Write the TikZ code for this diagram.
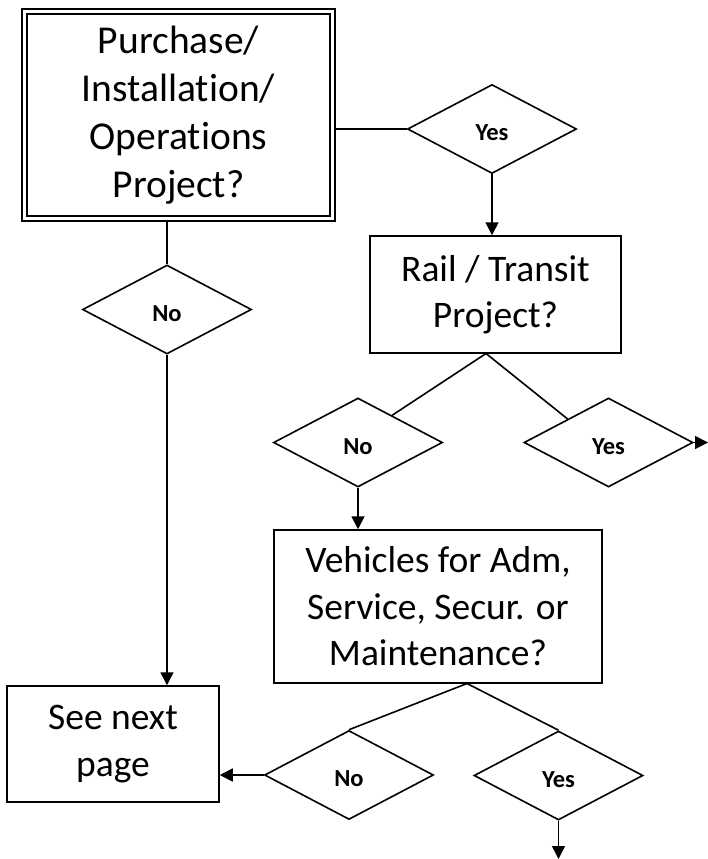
\documentclass[tikz,border=0pt]{standalone}
\usepackage{fontspec}
\setmainfont{Carlito}[Ligatures=NoCommon]
\usetikzlibrary{shapes.geometric, arrows.meta, calc}

\begin{document}
\begin{tikzpicture}[
      x=1pt, y=-1pt,
      every node/.style={align=center, font=\fontsize{37.5}{46.5}\selectfont},
      box/.style={rectangle, draw, line width=1.5pt, inner sep=0pt},
      bigbox/.style={rectangle, draw, line width=2.2pt, double, double distance=2.5pt, inner sep=0pt,
          font=\fontsize{39.5}{48}\selectfont},
      choice/.style={diamond, draw, line width=1.6pt, inner sep=0pt,
          minimum width=169pt, minimum height=89pt,
          text height=23pt, text depth=0pt,
          font=\fontsize{24.5}{28}\selectfont\bfseries},
      link/.style={line width=1.6pt},
      arrow/.style={link, -{Triangle[length=13pt, width=13pt]}}
    ]

    \useasboundingbox (0,0) rectangle (708,859);

    % boxes
    \node[bigbox, minimum width=308pt, minimum height=207pt] (project) at (178.5,115)
        {Purchase/\\Installation/\\Operations\\Project?};
    \node[box, minimum width=251pt, minimum height=117pt] (rail) at (495.5,294.5)
        {Rail / Transit\\Project?};
    \node[box, minimum width=328pt, minimum height=153pt] (vehicles) at (438,606.5)
        {Vehicles for Adm,\\Service, Secur. or\\Maintenance?};
    \node[box, minimum width=212pt, minimum height=116pt] (next) at (113,744)
        {See next\\page};

    % decisions
    \node[choice] (yesProject) at (492,129) {Yes};
    \node[choice] (noProject) at (167,309.5) {No};
    \node[choice] (noRail) at (358,442.5) {No};
    \node[choice] (yesRail) at (608.5,442.5) {Yes};
    \node[choice] (noVehicles) at (349,775) {No};
    \node[choice] (yesVehicles) at (558.5,775.5) {Yes};

    \coordinate (railFork) at (486,353.5);
    \coordinate (vehiclesFork) at (467,683.5);
    \coordinate (railOut) at (708,442.5);
    \coordinate (vehiclesOut) at (558.5,859);

    % connectors
    \draw[link] (yesProject.west -| project.east) -- (yesProject.west);
    \draw[arrow] (yesProject.south) -- (yesProject.south |- rail.north);
    \draw[link] (project.south -| noProject.north) -- (noProject.north);
    \draw[arrow] (noProject.south) -- (noProject.south |- next.north);

    \draw[link] (railFork) -- ($(noRail.north)!0.4!(noRail.east)$);
    \draw[link] (railFork) -- ($(yesRail.north)!0.48!(yesRail.west)$);
    \draw[arrow] (noRail.south) -- (noRail.south |- vehicles.north);
    \draw[arrow] (yesRail.east) -- (railOut);

    \draw[link] (vehiclesFork) -- (noVehicles.north);
    \draw[link] (vehiclesFork) -- (yesVehicles.north);
    \draw[arrow] (noVehicles.west) -- (noVehicles.west -| next.east);
    \draw[arrow] (yesVehicles.south) -- (vehiclesOut);

  \end{tikzpicture}
\end{document}
